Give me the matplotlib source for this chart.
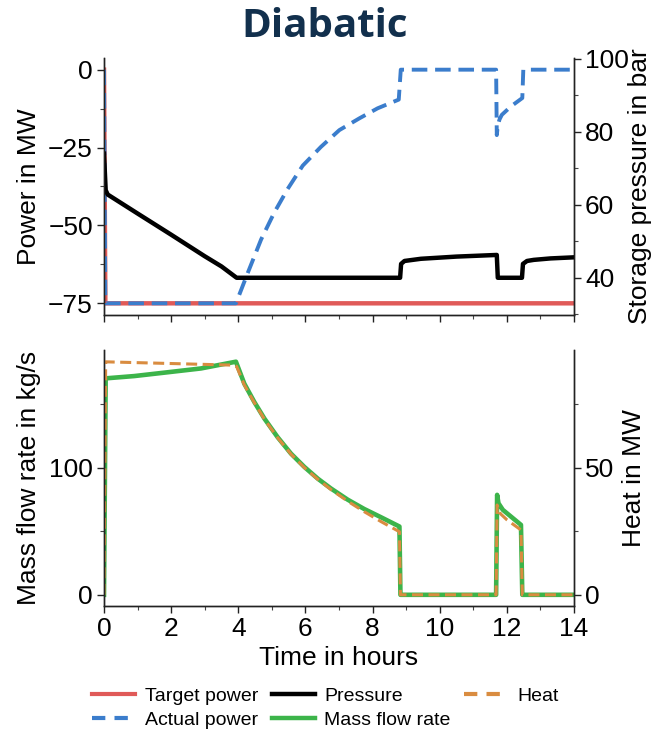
import matplotlib
matplotlib.use("Agg")
import matplotlib.pyplot as plt
from matplotlib.ticker import MultipleLocator
from matplotlib.lines import Line2D

plt.rcParams['font.family'] = ['Liberation Sans', 'DejaVu Sans']

# ---------------- data ----------------
target_t = [0, 0.04, 14]
target_p = [0, -75, -75]

actual_t = [0, 0.04, 3.93, 4.28, 4.68, 5.07, 5.47, 5.92, 6.46, 7.01, 7.61, 8.15, 8.78, 8.84,
            11.68, 11.70, 11.73, 11.78, 11.85, 12.12, 12.46, 12.49, 14]
actual_p = [0, -75, -75, -65.3, -54.5, -45.9, -38.3, -30.8, -24.8, -19.4, -15.6, -12.4, -9.6, 0,
            0, -21, -18, -16, -14.5, -11.8, -9.1, 0, 0]

pressure_t = [0, 0.05, 0.11, 1.0, 2.0, 3.0, 3.5, 3.95, 8.82, 8.85, 8.95, 9.44, 10.5, 11.7,
              11.73, 12.45, 12.48, 12.6, 12.8, 13.3, 14]
pressure_b = [74, 64, 62.8, 57.6, 51.8, 45.9, 43.1, 40, 40, 43.8, 44.6, 45.2, 45.8, 46.25,
              40, 40, 43.8, 44.6, 44.9, 45.3, 45.6]

flow_t = [0, 0.05, 0.9, 1.9, 2.89, 3.93, 4.18, 4.48, 4.78, 5.17, 5.57, 5.97, 6.37, 6.76, 7.26, 7.75,
          8.25, 8.8, 8.83, 11.68, 11.71, 11.75, 11.88, 12.42, 12.46, 14]
flow_kgs = [0, 170.2, 172, 175, 178, 183.3, 166, 151.5, 138.5, 124, 111, 100.5, 91.3, 83.6, 74.8, 67.5,
            61, 53.7, 0, 0, 78.6, 72, 66.8, 55, 0, 0]

heat_t = [0, 0.05, 3.85, 3.95, 4.18, 4.48, 4.78, 5.17, 5.57, 5.97, 6.37, 6.76, 7.26, 7.75, 8.25, 8.8, 8.83,
          11.68, 11.71, 11.8, 12.0, 12.42, 12.46, 14]
heat_mw = [0, 91.6, 90.3, 89.8, 82.5, 75.5, 69, 61.8, 55.3, 50, 45.4, 41.4, 36.8, 32.7, 28.8, 24.8, 0,
           0, 35.3, 32, 29.5, 25.5, 0, 0]

legend_labels = ["Target power", "Actual power", "Pressure", "Mass flow rate", "Heat"]

c_red = '#e05a58'
c_blue = '#3b7dcc'
c_black = '#000000'
c_green = '#3cb44a'
c_orange = '#d98c40'

fig = plt.figure(figsize=(6.64, 7.36), dpi=100)
L, W = 104/664, 470/664
ax1 = fig.add_axes([L, 1-315/736, W, 257/736])
ax3 = fig.add_axes([L, 1-606/736, W, 256/736])
ax2 = ax1.twinx()
ax4 = ax3.twinx()

tick_fs = 19
label_fs = 19

# top
ax1.plot(target_t, target_p, color=c_red, lw=3.2, zorder=2)
ax1.plot(actual_t, actual_p, color=c_blue, lw=2.8, dashes=(4.0, 2.0), zorder=3)
ax2.plot(pressure_t, pressure_b, color=c_black, lw=3.2)
ax1.set_ylim(-78.75, 3.75)
ax2.set_ylim(29.8, 100.2)
ax1.set_yticks([0, -25, -50, -75])
ax1.set_yticklabels(['0', '\u221225', '\u221250', '\u221275'])
ax1.yaxis.set_minor_locator(MultipleLocator(12.5))
ax2.set_yticks([40, 60, 80, 100])
ax2.yaxis.set_minor_locator(MultipleLocator(10))
ax1.set_ylabel('Power in MW', fontsize=label_fs)
ax2.set_ylabel('Storage pressure in bar', fontsize=label_fs)
ax1.yaxis.set_label_coords(-0.135, 0.5)
ax2.yaxis.set_label_coords(1.115, 0.5)

# bottom
ax3.plot(flow_t, flow_kgs, color=c_green, lw=3.3)
ax4.plot(heat_t, heat_mw, color=c_orange, lw=2.2, dashes=(3.6, 1.8))
ax3.set_ylim(-8.8, 192.5)
ax4.set_ylim(-4.4, 96.25)
ax3.set_yticks([0, 100])
ax3.yaxis.set_minor_locator(MultipleLocator(50))
ax4.set_yticks([0, 50])
ax4.yaxis.set_minor_locator(MultipleLocator(25))
ax3.set_ylabel('Mass flow rate in kg/s', fontsize=label_fs)
ax4.set_ylabel('Heat in MW', fontsize=label_fs)
ax3.yaxis.set_label_coords(-0.135, 0.5)
ax4.yaxis.set_label_coords(1.102, 0.5)
ax3.set_xlabel('Time in hours', fontsize=label_fs)
ax3.xaxis.set_label_coords(0.5, -0.155)

for ax in (ax1, ax3):
    ax.set_xlim(0, 14)
    ax.set_xticks(range(0, 15, 2))
    ax.xaxis.set_minor_locator(MultipleLocator(1))
ax1.tick_params(axis='x', labelbottom=False)

for ax in (ax1, ax2, ax3, ax4):
    ax.spines['top'].set_visible(False)
    for s in ax.spines.values():
        s.set_linewidth(1.0)
        s.set_color('#222222')
    ax.tick_params(which='major', length=5, width=1, labelsize=tick_fs, pad=3, color='#222222')
    ax.tick_params(which='minor', length=3, width=0.8, color='#444444')

fig.text(0.489, 1-37/736, 'Diabatic', fontsize=29, fontweight='bold', color='#12304d',
         family=['Open Sans', 'DejaVu Sans'], ha='center', va='baseline')

handles = [Line2D([], [], color=c_red, lw=3.0),
           Line2D([], [], color=c_blue, lw=3.0, dashes=(3.2, 2.2)),
           Line2D([], [], color=c_black, lw=3.2),
           Line2D([], [], color=c_green, lw=3.2),
           Line2D([], [], color=c_orange, lw=3.0, dashes=(3.2, 2.2))]
fig.legend(handles, legend_labels, loc='upper center', bbox_to_anchor=(0.49, 1-687/736),
           ncol=3, frameon=False, fontsize=14, handlelength=2.2, handletextpad=0.5,
           columnspacing=0.7, labelspacing=0.35, borderpad=0, borderaxespad=0)

fig.savefig('out.png', dpi=100)
